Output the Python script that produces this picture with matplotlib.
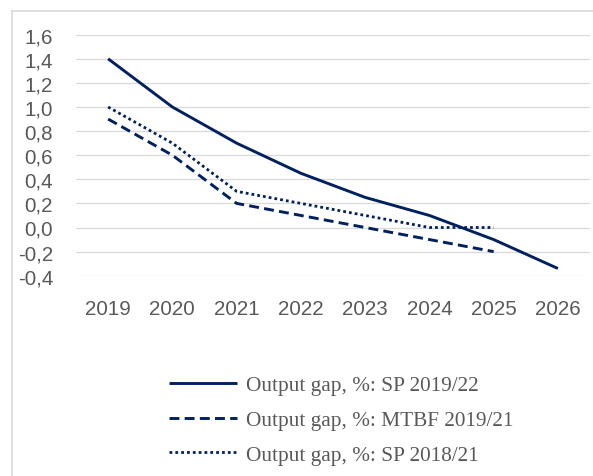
import numpy as np
import matplotlib
matplotlib.use('Agg')
import matplotlib.pyplot as plt
from matplotlib.lines import Line2D

# Data
years = ['2019', '2020', '2021', '2022', '2023', '2024', '2025', '2026']
sp_2019_22 = [1.4, 1.0, 0.7, 0.45, 0.25, 0.1, -0.1, -0.34]
mtbf_2019_21 = [0.9, 0.6, 0.2, 0.1, 0.0, -0.1, -0.2]
sp_2018_21 = [1.0, 0.7, 0.3, 0.2, 0.1, 0.0, 0.0]

labels = ['Output gap, %: SP 2019/22', 'Output gap, %: MTBF 2019/21', 'Output gap, %: SP 2018/21']
yticks = [-0.4, -0.2, 0.0, 0.2, 0.4, 0.6, 0.8, 1.0, 1.2, 1.4, 1.6]

navy = '#002060'
grey_txt = '#595959'
grid_col = '#d9d9d9'

W, H = 593, 477
fig = plt.figure(figsize=(W/100., H/100.), dpi=100)
ax = fig.add_axes([76./W, 1-276.7/H, (590.-76.)/W, (276.7-35.7)/H])

x = np.arange(len(years))
ax.plot(x[:len(sp_2019_22)], sp_2019_22, color=navy, lw=2.1, label=labels[0], solid_capstyle='butt')
ax.plot(x[:len(mtbf_2019_21)], mtbf_2019_21, color=navy, lw=2.1, ls=(0, (3.4, 1.8)), label=labels[1], dash_capstyle='butt')
ax.plot(x[:len(sp_2018_21)], sp_2018_21, color=navy, lw=2.0, ls=(0, (1, 1.1)), label=labels[2])

ax.set_xlim(-0.5, len(years)-0.5)
ax.set_ylim(-0.4, 1.6)
ax.set_xticks(x)
ax.set_xticklabels(years)
ax.set_yticks(yticks)
ax.set_yticklabels([('%.1f' % v).replace('.', ',') for v in yticks])

for s in ax.spines.values():
    s.set_visible(False)
ax.grid(axis='y', color=grid_col, lw=0.9)
ax.set_axisbelow(True)
ax.tick_params(length=0, labelcolor=grey_txt, labelsize=14.8)
ax.tick_params(axis='x', pad=17)
ax.tick_params(axis='y', pad=16.5)
for t in ax.get_xticklabels() + ax.get_yticklabels():
    t.set_fontfamily('Liberation Sans')

# legend under the plot
leg = fig.legend(loc='center left', bbox_to_anchor=(169./W, 1-421./H), frameon=False,
                 prop={'family': 'Liberation Serif', 'size': 15.3}, handlelength=3.2,
                 handletextpad=0.42, labelspacing=0.7, borderpad=0, borderaxespad=0)
for t in leg.get_texts():
    t.set_color(grey_txt)

# chart frame (top and left edge visible)
fig.add_artist(Line2D([12./W, 12./W], [0, 1-12./H], color=grid_col, lw=1.2))
fig.add_artist(Line2D([12./W, 1], [1-12./H, 1-12./H], color=grid_col, lw=1.2))

fig.savefig('out.png', dpi=100)
